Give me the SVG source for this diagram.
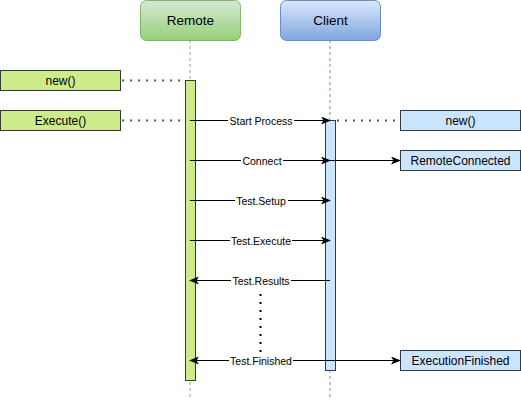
<svg xmlns="http://www.w3.org/2000/svg" width="521" height="401" viewBox="0 0 521 401">
<style>
text{font-family:"Liberation Sans",Arial,sans-serif;fill:#000}
.hdr{font-size:13.5px;text-anchor:middle}
.box{font-size:12px;text-anchor:middle}
.lbl{font-size:10.5px;text-anchor:middle}
.msg{stroke:#000;stroke-width:1;fill:none}
.dot{stroke:#555;stroke-width:2;stroke-dasharray:2 6;fill:none}
.act{stroke:#36393d;stroke-width:1}
</style>
<defs>
<linearGradient id="gG" x1="0" y1="0" x2="0" y2="1"><stop offset="0" stop-color="#d5e8d4"/><stop offset="1" stop-color="#97d077"/></linearGradient>
<linearGradient id="gB" x1="0" y1="0" x2="0" y2="1"><stop offset="0" stop-color="#dae8fc"/><stop offset="1" stop-color="#7ea6e0"/></linearGradient>
<marker id="ar" viewBox="0 0 10 8" refX="9" refY="4" markerWidth="10" markerHeight="8" markerUnits="userSpaceOnUse" orient="auto-start-reverse">
<path d="M0,0 L10,4 L0,8 L2.5,4 z" fill="#000"/>
</marker>
</defs>
<g id="remote">
<line x1="190" y1="40" x2="190" y2="400" stroke="#82b366" stroke-dasharray="3 3"/>
<rect x="140.5" y="0.5" width="100" height="40" rx="6" fill="url(#gG)" stroke="#82b366"/>
<text class="hdr" x="190.5" y="25">Remote</text>
<rect class="act" x="185.5" y="80.5" width="10" height="300" fill="#cdeb8b"/>
</g>
<g id="client">
<line x1="330" y1="40" x2="330" y2="400" stroke="#6c8ebf" stroke-dasharray="3 3"/>
<rect x="280.5" y="0.5" width="100" height="40" rx="6" fill="url(#gB)" stroke="#6c8ebf"/>
<text class="hdr" x="330.5" y="25">Client</text>
<rect class="act" x="325.5" y="120.5" width="10" height="250" fill="#cce5ff"/>
</g>
<g id="remote-new">
<rect class="act" x="0.5" y="70.5" width="120" height="20" fill="#cdeb8b"/>
<text class="box" x="60.5" y="85">new()</text>
</g>
<g id="remote-execute">
<rect class="act" x="0.5" y="110.5" width="120" height="20" fill="#cdeb8b"/>
<text class="box" x="60.5" y="125">Execute()</text>
</g>
<g id="client-new">
<rect class="act" x="400.5" y="110.5" width="120" height="20" fill="#cce5ff"/>
<text class="box" x="460.5" y="125">new()</text>
</g>
<g id="remote-connected">
<rect class="act" x="400.5" y="150.5" width="120" height="20" fill="#cce5ff"/>
<text class="box" x="460.5" y="165">RemoteConnected</text>
</g>
<g id="execution-finished">
<rect class="act" x="400.5" y="350.5" width="120" height="20" fill="#cce5ff"/>
<text class="box" x="460.5" y="365">ExecutionFinished</text>
</g>
<g id="connectors">
<line class="dot" x1="122" y1="80.5" x2="185" y2="80.5"/>
<line class="dot" x1="122" y1="120.5" x2="185" y2="120.5"/>
<line class="dot" x1="337" y1="120.5" x2="400" y2="120.5"/>
<line class="msg" x1="190" y1="120.5" x2="330" y2="120.5" marker-end="url(#ar)"/>
<line class="msg" x1="190" y1="160.5" x2="330" y2="160.5" marker-end="url(#ar)"/>
<line class="msg" x1="330" y1="160.5" x2="400" y2="160.5" marker-end="url(#ar)"/>
<line class="msg" x1="190" y1="200.5" x2="330" y2="200.5" marker-end="url(#ar)"/>
<line class="msg" x1="190" y1="240.5" x2="330" y2="240.5" marker-end="url(#ar)"/>
<line class="msg" x1="330" y1="280.5" x2="190" y2="280.5" marker-end="url(#ar)"/>
<line class="msg" x1="330" y1="360.5" x2="190" y2="360.5" marker-end="url(#ar)"/>
<line class="msg" x1="330" y1="360.5" x2="400" y2="360.5" marker-end="url(#ar)"/>
<line x1="260.5" y1="294" x2="260.5" y2="352" stroke="#000" stroke-width="2" stroke-dasharray="2 6"/>
<g>
<rect x="228" y="114" width="66" height="13" fill="#fff"/>
<text class="lbl" x="261" y="124.5">Start Process</text>
<rect x="241" y="154" width="42" height="13" fill="#fff"/>
<text class="lbl" x="262" y="164.5">Connect</text>
<rect x="235" y="194" width="53" height="13" fill="#fff"/>
<text class="lbl" x="261" y="204.5">Test.Setup</text>
<rect x="230" y="234" width="62" height="13" fill="#fff"/>
<text class="lbl" x="261" y="244.5">Test.Execute</text>
<rect x="231" y="274" width="60" height="13" fill="#fff"/>
<text class="lbl" x="261" y="284.5">Test.Results</text>
<rect x="229" y="354" width="64" height="13" fill="#fff"/>
<text class="lbl" x="261" y="364.5">Test.Finished</text>
</g>
</g>
</svg>
